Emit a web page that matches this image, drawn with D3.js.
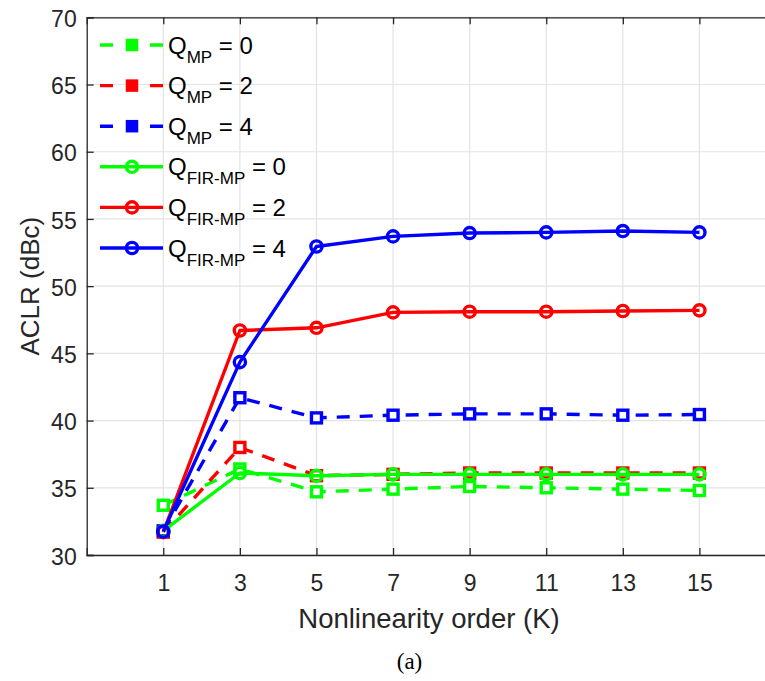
<!DOCTYPE html>
<html><head><meta charset="utf-8">
<script src="https://cdn.jsdelivr.net/npm/d3@7"></script>
<style>body{margin:0;background:#fff}svg{display:block}</style>
</head><body>
<svg id="c" width="765" height="681"></svg>
<script>
const orders = [1, 3, 5, 7, 9, 11, 13, 15];
const mp0 = [33.7, 36.4, 34.7, 34.9, 35.1, 35.0, 34.9, 34.8];
const mp2 = [31.7, 38.0, 35.9, 36.0, 36.1, 36.1, 36.1, 36.1];
const mp4 = [31.8, 41.7, 40.2, 40.4, 40.5, 40.5, 40.4, 40.45];
const fir0 = [31.8, 36.1, 35.9, 36.0, 36.0, 36.0, 36.0, 36.0];
const fir2 = [31.7, 46.7, 46.9, 48.05, 48.1, 48.1, 48.15, 48.2];
const fir4 = [31.75, 44.35, 52.95, 53.7, 53.95, 54.0, 54.1, 54.0];
const yTicks = [30, 35, 40, 45, 50, 55, 60, 65, 70];
const xTicks = [1, 3, 5, 7, 9, 11, 13, 15];
const seriesNames = ["MP", "MP", "MP", "FIR-MP", "FIR-MP", "FIR-MP"];
const seriesQ = [0, 2, 4, 0, 2, 4];

const series = [
  {v: mp0, color: "#00ff00", dashed: true, marker: "square"},
  {v: mp2, color: "#ff0000", dashed: true, marker: "square"},
  {v: mp4, color: "#0000ff", dashed: true, marker: "square"},
  {v: fir0, color: "#00ff00", dashed: false, marker: "circle"},
  {v: fir2, color: "#ff0000", dashed: false, marker: "circle"},
  {v: fir4, color: "#0000ff", dashed: false, marker: "circle"}
];

const svg = d3.select("#c");
const L = 86.7, R = 776, T = 17.3, B = 555;
const x = d3.scaleLinear().domain([-1, 17]).range([L, R]);
const y = d3.scaleLinear().domain([30, 70]).range([B, T]);
const font = "'Liberation Sans', Arial, Helvetica, sans-serif";
const axisColor = "#262626";

// grid
const g = svg.append("g");
g.selectAll(".gx").data(xTicks).join("line")
  .attr("x1", d => x(d)).attr("x2", d => x(d)).attr("y1", T).attr("y2", B)
  .attr("stroke", "#e3e3e3").attr("stroke-width", 1.2);
g.selectAll(".gy").data(yTicks).join("line")
  .attr("x1", L).attr("x2", R).attr("y1", d => y(d)).attr("y2", d => y(d))
  .attr("stroke", "#e3e3e3").attr("stroke-width", 1.2);

// axes
const xAxisB = d3.axisBottom(x).tickValues(xTicks).tickSize(-7).tickPadding(0).tickFormat(d3.format("d"));
const gxB = svg.append("g").attr("transform", `translate(0,${B})`).call(xAxisB);
const xAxisT = d3.axisTop(x).tickValues(xTicks).tickSize(-7).tickFormat("");
const gxT = svg.append("g").attr("transform", `translate(0,${T})`).call(xAxisT);
const yAxisL = d3.axisLeft(y).tickValues(yTicks).tickSize(-7).tickPadding(0).tickFormat(d3.format("d"));
const gyL = svg.append("g").attr("transform", `translate(${L},0)`).call(yAxisL);
[gxB, gxT, gyL].forEach(a => {
  a.select(".domain").attr("stroke", axisColor).attr("stroke-width", 1.3);
  a.selectAll(".tick line").attr("stroke", axisColor).attr("stroke-width", 1.3);
  a.selectAll(".tick text").attr("fill", axisColor).attr("font-family", font).attr("font-size", 23);
});
gxB.selectAll(".tick text").attr("y", 36).attr("dy", 0);
gyL.selectAll(".tick text").attr("x", -10).attr("dy", "0.4em");

// lines and markers
const line = d3.line().x((d, i) => x(orders[i])).y(d => y(d));
series.forEach(s => {
  const sg = svg.append("g");
  sg.append("path").datum(s.v).attr("d", line)
    .attr("fill", "none").attr("stroke", s.color).attr("stroke-width", 3.4)
    .attr("stroke-linejoin", "round")
    .attr("stroke-dasharray", s.dashed ? "13,10" : null);
  if (s.marker === "square") {
    sg.selectAll("rect").data(s.v).join("rect")
      .attr("x", (d, i) => x(orders[i]) - 5).attr("y", d => y(d) - 5)
      .attr("width", 10).attr("height", 10)
      .attr("fill", "#fff").attr("stroke", s.color).attr("stroke-width", 3.4);
  } else {
    sg.selectAll("circle").data(s.v).join("circle")
      .attr("cx", (d, i) => x(orders[i])).attr("cy", d => y(d)).attr("r", 5.6)
      .attr("fill", "none").attr("stroke", s.color).attr("stroke-width", 3.4);
  }
});

// legend
const lg = svg.append("g");
series.forEach((s, i) => {
  const ly = 45 + i * 40.6;
  const row = lg.append("g");
  row.append("line").attr("x1", 100).attr("x2", 163).attr("y1", ly).attr("y2", ly)
    .attr("stroke", s.color).attr("stroke-width", 3.4)
    .attr("stroke-dasharray", s.dashed ? "13,37" : null);
  if (s.marker === "square") {
    row.append("rect").attr("x", 127).attr("y", ly - 5).attr("width", 10).attr("height", 10)
      .attr("fill", s.color).attr("stroke", s.color).attr("stroke-width", 2.5);
  } else {
    row.append("circle").attr("cx", 132).attr("cy", ly).attr("r", 5.6)
      .attr("fill", "none").attr("stroke", s.color).attr("stroke-width", 3.4);
  }
  const t = row.append("text").attr("x", 168).attr("y", ly + 8.5)
    .attr("font-family", font).attr("font-size", 24).attr("fill", "#000");
  t.append("tspan").text("Q");
  t.append("tspan").attr("font-size", 17).attr("dy", 9).text(seriesNames[i]);
  t.append("tspan").attr("dy", -9).text(" = " + seriesQ[i]);
});

// labels
svg.append("text").attr("x", 429).attr("y", 628).attr("text-anchor", "middle")
  .attr("font-family", font).attr("font-size", 27.5).attr("fill", axisColor)
  .text("Nonlinearity order (K)");
svg.append("text").attr("transform", `translate(39,${(T + B) / 2}) rotate(-90)`)
  .attr("text-anchor", "middle").attr("font-family", font).attr("font-size", 26)
  .attr("fill", axisColor).text("ACLR (dBc)");
svg.append("text").attr("x", 409.5).attr("y", 669).attr("text-anchor", "middle")
  .attr("font-family", "'Liberation Serif', 'DejaVu Serif', serif").attr("font-size", 23)
  .attr("fill", "#000").text("(a)");
</script>
</body></html>
